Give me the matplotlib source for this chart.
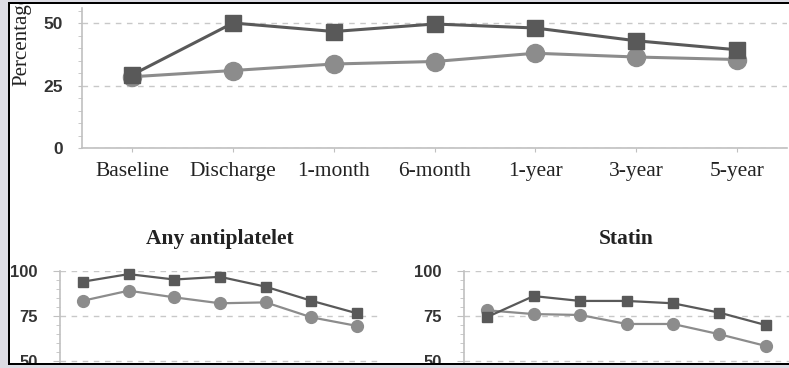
import matplotlib
matplotlib.use("Agg")
import matplotlib.pyplot as plt
from matplotlib.patches import Rectangle
from matplotlib.ticker import MultipleLocator

W, H = 789, 368

# data
timepoints = ["Baseline", "Discharge", "1-month", "6-month", "1-year", "3-year", "5-year"]
top_square = [29.3, 50.0, 46.6, 49.6, 48.0, 42.9, 39.3]
top_circle = [28.5, 31.0, 33.6, 34.6, 37.9, 36.4, 35.4]
anti_square = [93.9, 98.1, 95.1, 96.6, 91.1, 83.3, 76.3]
anti_circle = [83.3, 88.9, 85.2, 81.9, 82.4, 74.1, 69.3]
statin_square = [74.3, 85.9, 83.2, 83.2, 81.9, 76.7, 69.8]
statin_circle = [78.0, 75.9, 75.4, 70.4, 70.4, 64.7, 58.2]

dark = "#595959"
light = "#8c8c8c"
axis_col = "#c0c0c0"
grid_col = "#c8c8c8"
serif = "Liberation Serif"
sans = "Liberation Sans"


def px_axes(fig, left, top, right, bottom):
    return fig.add_axes([left / W, 1 - bottom / H, (right - left) / W, (bottom - top) / H])


def style(ax, major, tick_len):
    for s in ["top", "right"]:
        ax.spines[s].set_visible(False)
    for s in ["left", "bottom"]:
        ax.spines[s].set_color(axis_col)
        ax.spines[s].set_linewidth(1.2)
    ax.yaxis.set_major_locator(MultipleLocator(major))
    ax.yaxis.set_minor_locator(MultipleLocator(5))
    ax.tick_params(axis="y", which="major", length=tick_len, color=axis_col)
    ax.tick_params(axis="y", which="minor", length=3, color=axis_col)
    ax.grid(axis="y", which="major", color=grid_col, linestyle=(0, (4, 4)), linewidth=1)
    ax.set_axisbelow(True)
    ax.set_xlim(-0.5, len(timepoints) - 0.5)
    ax.set_xticks(range(len(timepoints)))


fig = plt.figure(figsize=(W / 100, H / 100), dpi=100)
fig.patch.set_facecolor("white")

# top chart
ax = px_axes(fig, 82, 8, 787, 148)
style(ax, 25, 3)
ax.set_ylim(0, 56)
x = range(len(timepoints))
ax.plot(x, top_circle, color=light, lw=2.2, marker="o", ms=13, clip_on=False)
ax.plot(x, top_square, color=dark, lw=2.2, marker="s", ms=12, clip_on=False)
ax.set_xticklabels(timepoints, fontfamily=serif, fontsize=15.5, color="#222222")
ax.tick_params(axis="x", length=3, color=axis_col, pad=7)
ax.tick_params(axis="y", pad=11, labelsize=12.5, labelcolor="#333333")
for lbl in ax.get_yticklabels():
    lbl.set_fontfamily(sans)
    lbl.set_fontweight("bold")
fig.text(22 / W, 1 - 86 / H, "Percentage", rotation=90, ha="center", va="bottom",
         fontfamily=serif, fontsize=15, color="#222222")

# bottom charts
for (left, right, title, sq, ci) in [(60, 380, "Any antiplatelet", anti_square, anti_circle),
                                     (464, 789, "Statin", statin_square, statin_circle)]:
    b = px_axes(fig, left, 270.7, right, 369.7)
    style(b, 25, 5)
    b.set_ylim(45, 100)
    b.set_yticks([50, 75, 100])
    b.plot(x, ci, color=light, lw=1.6, marker="o", ms=8.5, clip_on=False)
    b.plot(x, sq, color=dark, lw=1.6, marker="s", ms=7.5, clip_on=False)
    b.set_xticklabels([])
    b.tick_params(axis="x", length=0)
    b.tick_params(axis="y", pad=11, labelsize=12, labelcolor="#333333")
    for lbl in b.get_yticklabels():
        lbl.set_fontfamily(sans)
        lbl.set_fontweight("bold")
    b.set_title(title, fontfamily=serif, fontweight="bold", fontsize=15.5, pad=19, color="#222222")

# page frame: gray margins and black border, drawn above everything
bg = "#dcdce4"
for (x0, y0, w, h, c) in [(0, 0, 8, H, bg), (0, 0, W, 2, bg), (0, 365, W, 3, bg),
                          (8, 2, 2, 363, "black"), (8, 2, W - 8, 2, "black"),
                          (8, 363, W - 8, 2, "black")]:
    fig.add_artist(Rectangle((x0 / W, 1 - (y0 + h) / H), w / W, h / H,
                             transform=fig.transFigure, color=c, lw=0, zorder=20))

fig.savefig("out.png", dpi=100)
